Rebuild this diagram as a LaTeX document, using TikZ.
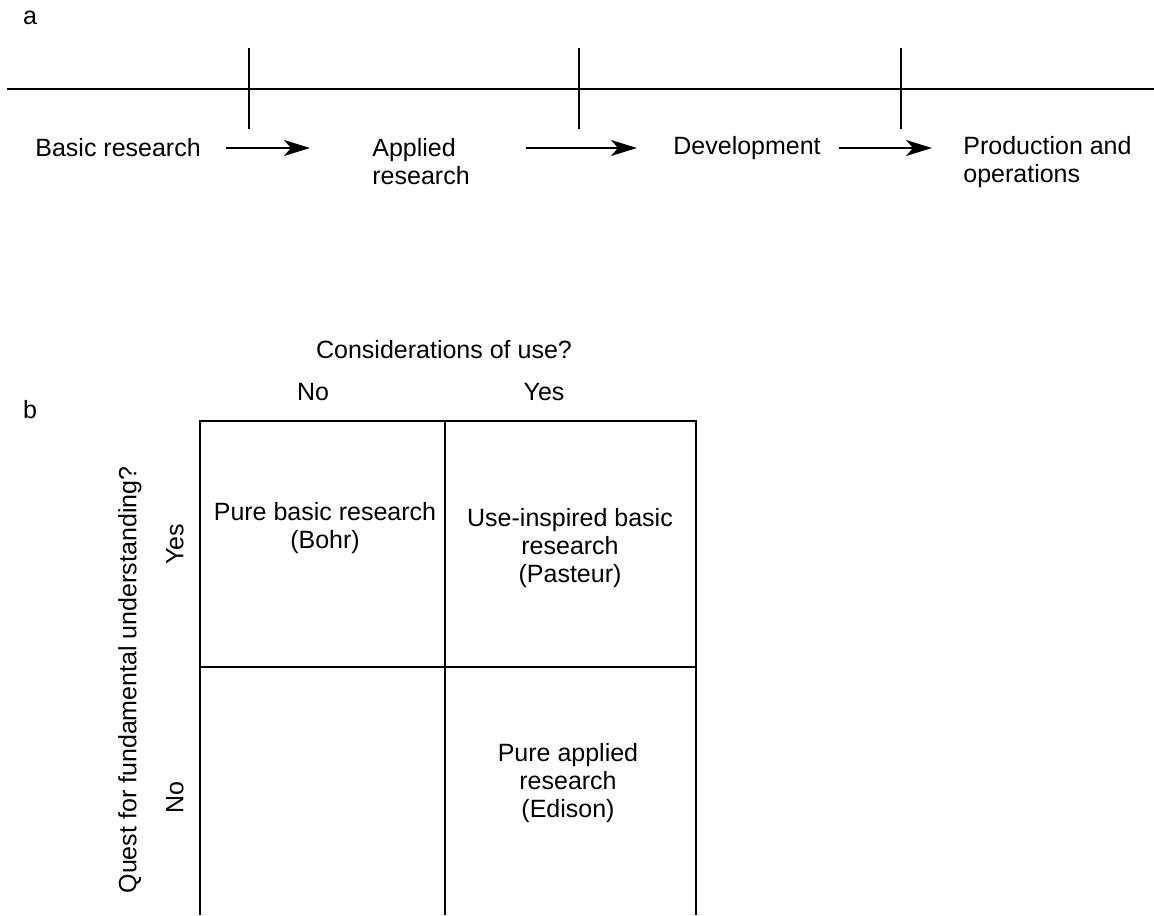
\documentclass[tikz,border=0pt]{standalone}
\usepackage{fontspec}
\setmainfont{Liberation Sans}
\usepackage{tikz}
\usetikzlibrary{arrows.meta}
\usetikzlibrary{positioning}
\tikzstyle{txt} = [
	inner sep = 0pt,
	font = \fontsize{12.5}{14}\selectfont
]
\tikzstyle{stage} = [txt, align = left, anchor = west]
\tikzstyle{cell} = [txt, align = center]
\tikzstyle{flow} = [-{Stealth[length=13pt, width=8pt, inset=3.5pt]}, line width=0.9pt]
\tikzstyle{rule} = [line width=0.9pt]

\begin{document}
\begin{tikzpicture}[x=0.5pt, y=-0.5pt]
	\useasboundingbox (0,0) rectangle (1154,915);
	% panel a
	\node [txt] (lbla) at (30,18) {a};
	\draw[rule] (7,89) -- (1154,89);
	\foreach \x in {249,579,901}
		\draw[rule] (\x,48) -- (\x,129);
	\node [txt, anchor=west] (basic) at (35,148) {Basic research};
	\node [stage] (applied) at (372,162) {Applied\\research};
	\node [txt, anchor=west] (devel) at (673,148) {Development};
	\node [stage] (prod) at (963,162) {Production and\\operations};
	
	\draw[flow, shorten <=12.5pt, shorten >=31pt] (basic.east) -- (basic.east -| applied.west);
	\draw[flow, shorten <=28pt, shorten >=18pt] (devel.west -| applied.east) -- (devel.west);
	\draw[flow, shorten <=9pt, shorten >=15.5pt] (devel.east) -- (devel.east -| prod.west);
	
	% panel b
	\node [txt] (lblb) at (30,410) {b};
	\node [txt] (use) at (444,350) {Considerations of use?};
	\node [txt] (useno) at (313,392) {No};
	\node [txt] (useyes) at (544,392) {Yes};
	\node [txt, rotate=90] (quest) at (130,680) {Quest for fundamental understanding?};
	\node [txt, rotate=90] (questyes) at (175,544) {Yes};
	\node [txt, rotate=90] (questno) at (175,798) {No};
	
	\draw[rule] (200,915) -- (200,421) -- (696,421) -- (696,915);
	\draw[rule] (445,421) -- (445,915);
	\draw[rule] (199,667) -- (696,667);
	
	\node [cell] (bohr) at (325,528) {Pure basic research\\(Bohr)};
	\node [cell] (pasteur) at (570,548) {Use-inspired basic\\research\\(Pasteur)};
	\node [cell] (edison) at (568,783) {Pure applied\\research\\(Edison)};
\end{tikzpicture}
\end{document}
